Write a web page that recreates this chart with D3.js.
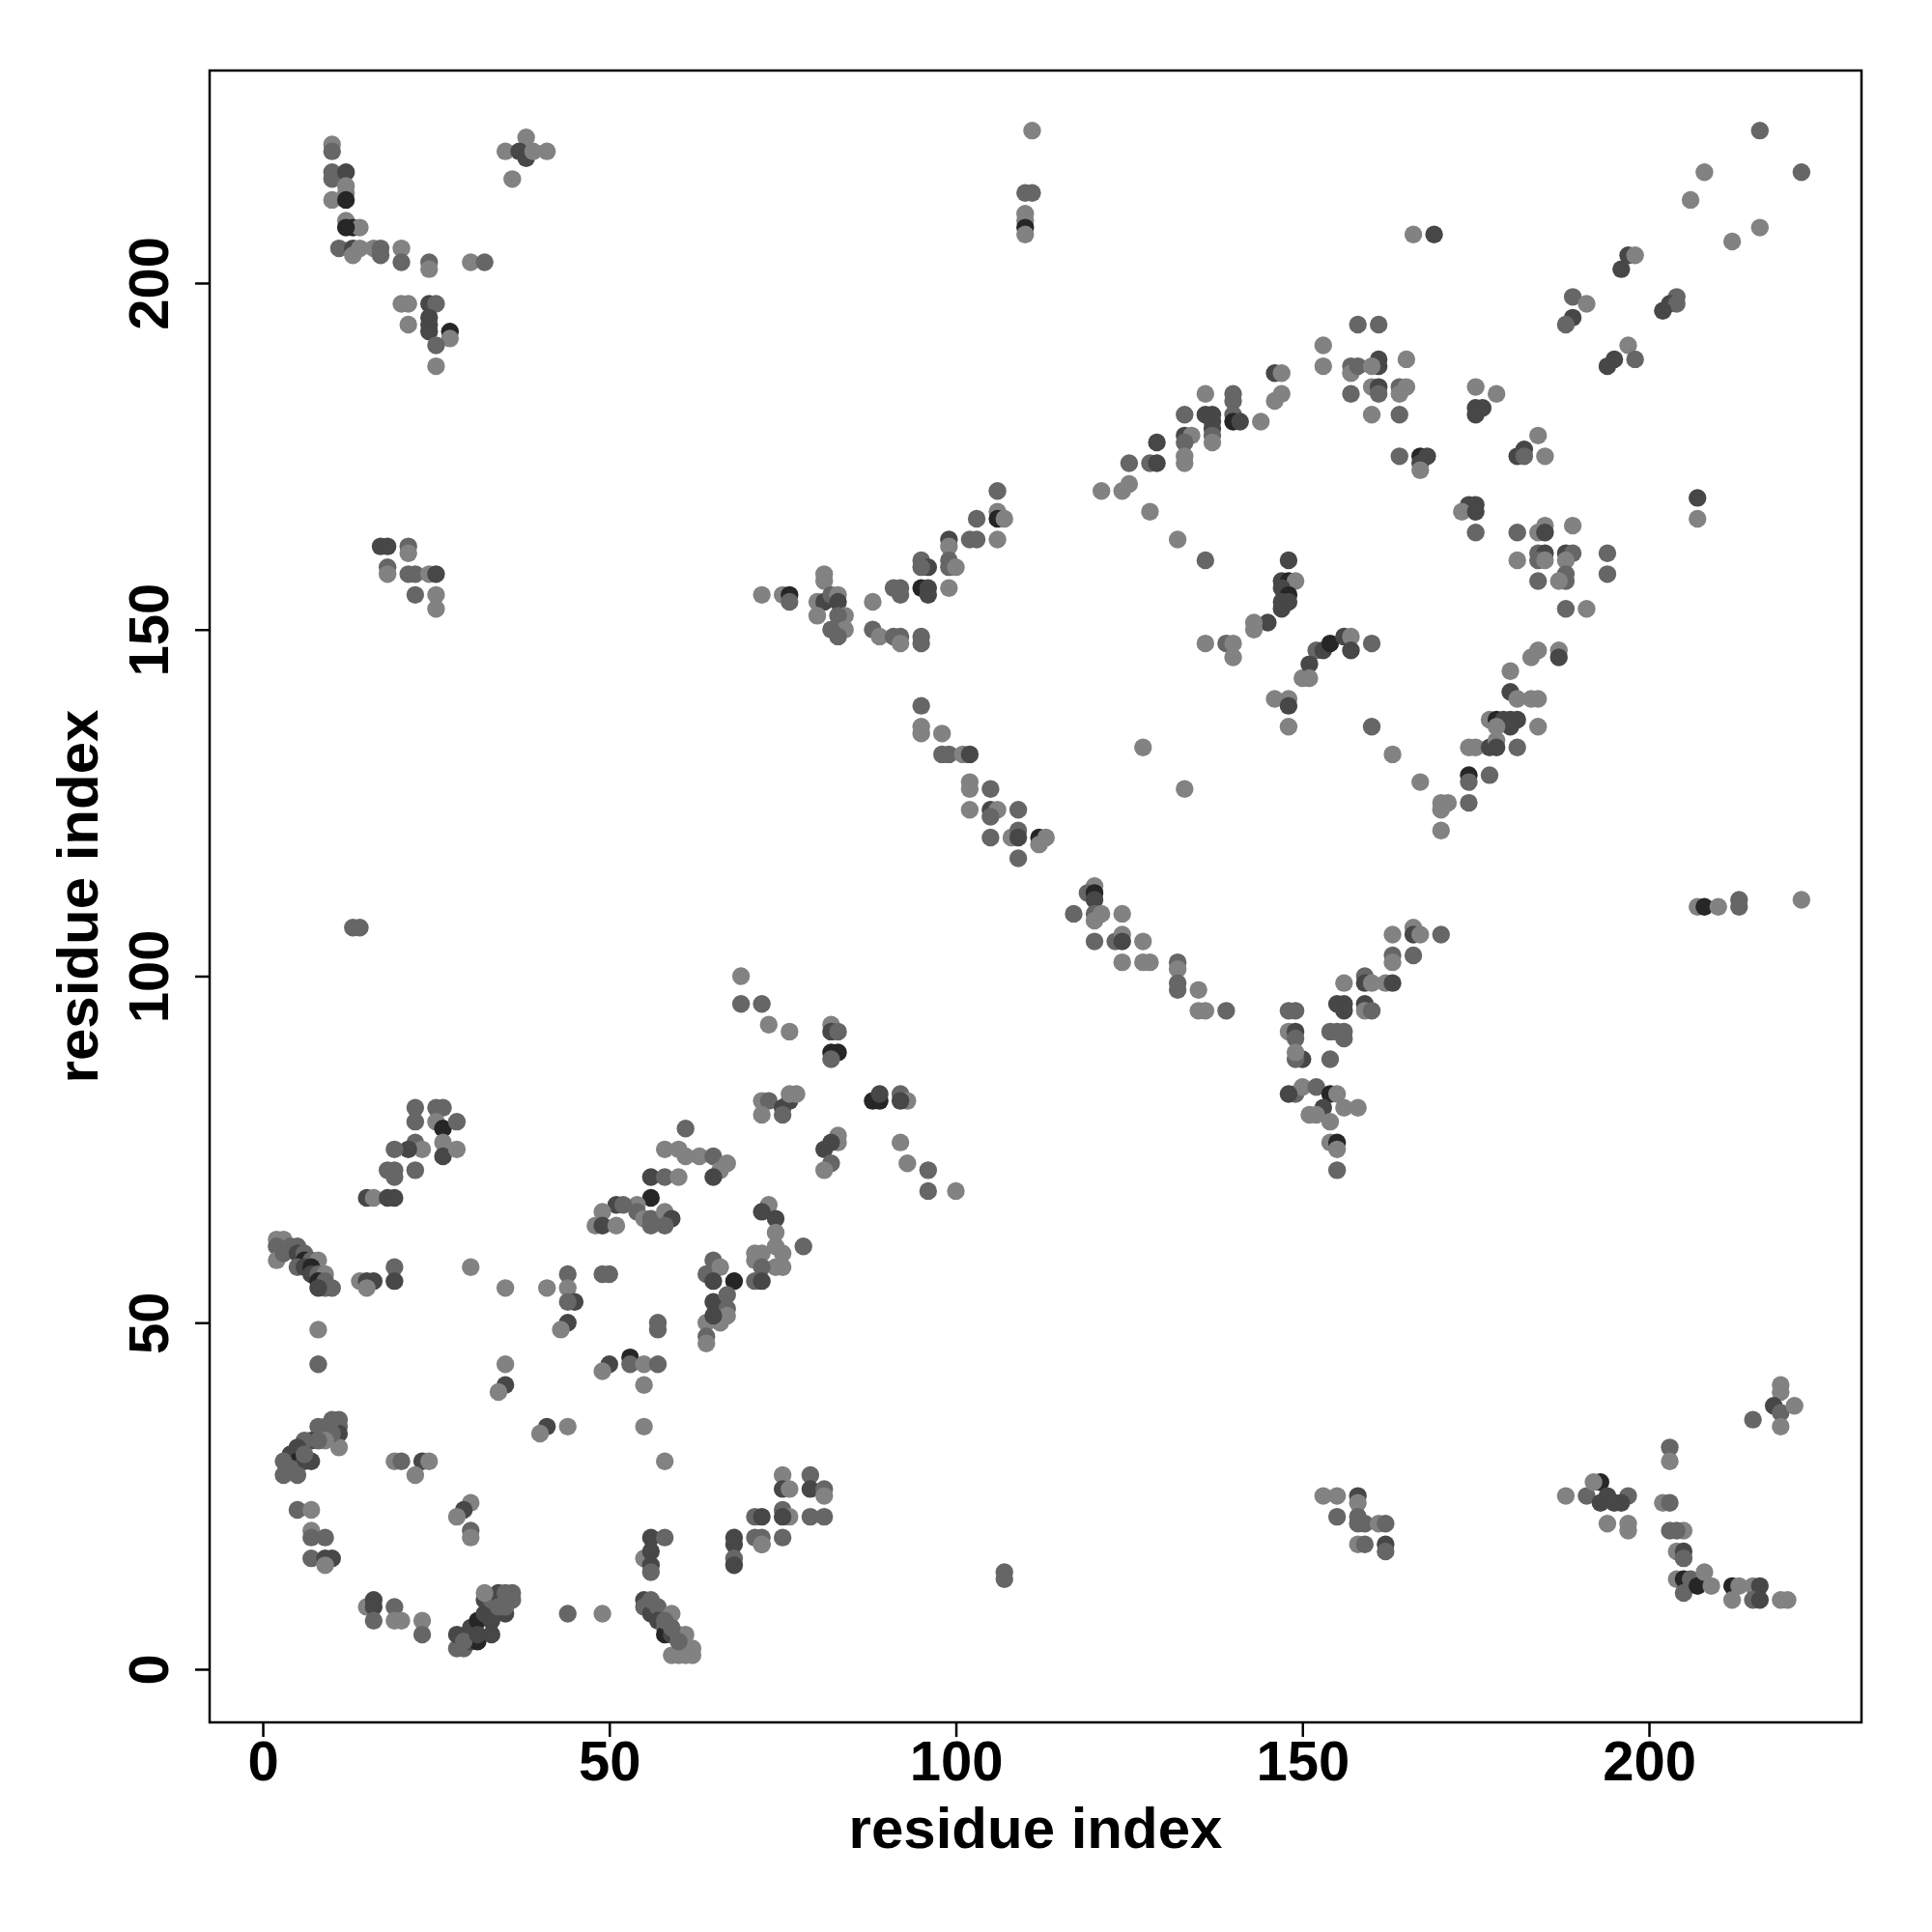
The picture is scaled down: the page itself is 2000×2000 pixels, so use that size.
<!DOCTYPE html>
<html>
<head>
<meta charset="utf-8">
<script src="https://cdn.jsdelivr.net/npm/d3@7"></script>
<style>
  html, body { margin: 0; padding: 0; background: #ffffff; }
  svg { display: block; }
  .tick text { font-family: "Liberation Sans", Arial, sans-serif; font-weight: bold; }
</style>
</head>
<body>
<svg id="chart" width="2000" height="2000"></svg>
<script>
// contacts: [residue i, residue j, shade level 1 (light) .. 4 (very dark)]
const contactsTopLeft = [
  [10,220,1],[10,219,2],[10,216,2],[10,215,2],[12,216,3],[12,214,1],[10,212,1],[12,213,1],[12,212,4],
  [12,209,1],[13,208,4],[14,208,1],[12,208,4],[11,205,2],[13,205,3],[13,204,1],[14,205,1],[16,205,1],[17,205,2],[17,204,2],
  [20,205,1],[20,203,2],[24,203,2],[24,202,1],[30,203,1],[32,203,2],
  [20,197,1],[21,197,1],[21,194,1],
  [24,197,3],[25,197,2],[24,195,3],[24,194,3],[24,193,3],[27,193,4],[27,192,1],[25,191,2],[25,188,1],
  [38,221,1],[35,219,1],[37,219,3],[38,218,3],[41,219,1],[39,219,1],[36,215,1],
  [17,162,3],[18,162,3],[21,162,2],[21,161,1],[18,159,2],[18,158,1],[21,158,2],[22,158,2],[24,158,1],[25,158,3],
  [22,155,2],[25,155,1],[25,153,1]
];
const contactsTopMiddle = [
  [111,222,1],[110,213,2],[111,213,2],[110,210,1],[110,209,1],[110,208,4],[110,207,1],
  [146,187,3],[147,187,1],[147,184,1],[146,183,1],[136,184,1],[140,184,2],[140,183,2],[133,181,2],
  [136,181,3],[137,181,3],[137,180,3],[137,179,3],[137,178,2],[137,177,1],
  [140,181,2],[140,180,4],[141,180,3],[144,180,1],
  [133,178,3],[134,178,1],[133,177,2],[133,175,1],[133,174,1],[129,177,3],[125,174,2],[128,174,2],[129,174,3]
];
const contactsTopRight = [
  [216,222,2],[208,216,1],[222,216,2],[206,212,1],[216,208,1],[212,206,1],[166,207,1],[169,207,3],
  [197,204,3],[198,204,1],[196,202,3],
  [189,198,2],[191,197,1],[189,195,3],[188,194,2],
  [204,198,2],[203,197,3],[204,197,2],[202,196,3],
  [197,191,1],[195,189,3],[194,188,3],[198,189,2],
  [153,191,1],[153,188,1],[158,194,2],[161,194,2],
  [157,188,2],[157,187,1],[158,188,2],[161,189,3],[161,188,3],[160,188,1],[165,189,1],
  [160,185,1],[161,185,3],[161,184,2],[157,184,2],[164,185,2],[165,185,1],[164,184,1],
  [160,181,1],[164,181,2],
  [175,185,1],[178,184,1],[175,182,3],[176,182,3],[175,181,3],
  [164,175,2],[167,175,4],[168,175,3],[167,174,3],[167,173,1],
  [184,178,1],[182,176,3],[181,175,3],[182,175,2],[185,175,1]
];
const contactsCentre = [
  [106,170,2],[121,170,1],[124,170,1],[125,171,1],[128,167,1],
  [103,166,2],[106,167,1],[106,166,4],[107,166,1],
  [99,163,3],[99,162,1],[102,163,2],[103,163,2],[106,163,1],[132,163,1],
  [95,160,2],[96,159,3],[95,159,2],[99,160,2],[99,159,2],[100,159,1],[136,160,2],
  [95,156,4],[96,156,3],[96,155,3],[92,156,2],[92,155,2],[91,156,2],[99,156,1],
  [72,155,1],[75,155,1],[76,155,4],[76,154,2],
  [81,158,1],[81,157,1],[80,154,1],[81,154,3],[82,155,2],[83,155,1],[83,154,3],[84,152,1],[80,152,1],[83,152,2],[84,150,1],[83,149,2],[82,150,2],
  [88,154,1],
  [88,150,2],[89,149,1],[91,149,2],[92,149,2],[92,148,1],[95,149,2],[95,148,2],
  [148,160,3],[147,157,3],[148,157,4],[149,157,1],[147,156,3],[148,155,4],[147,154,3],[148,154,3],[147,153,3],
  [145,151,3],[143,151,1],[143,150,1],
  [136,148,1],[139,148,2],[140,148,1],[140,146,1],
  [150,143,1],
  [146,140,1],[148,140,1],[148,139,3],[148,136,1],
  [127,133,1],[133,127,1],
  [95,139,2],[95,136,1],[95,135,1],[98,135,1],
  [98,132,2],[99,132,2],[101,132,1],[102,132,3],
  [102,128,1],[102,127,1],[105,127,2],
  [102,124,1],[105,124,3],[106,124,1],[105,123,2],[109,124,2],
  [105,120,2],[108,120,1],[109,121,2],[109,120,3],[112,120,4],[113,120,1],[112,119,1],
  [109,117,2],
  [120,113,1],[119,112,2],[120,112,4]
];
const contactsRightMiddle = [
  [207,169,3],[207,166,1],
  [174,168,3],[175,168,3],[173,167,1],[175,167,3],[175,164,2],
  [181,164,2],[184,164,1],[185,165,1],[185,164,3],[189,165,1],
  [181,160,1],[184,161,2],[185,161,3],[184,160,2],[185,160,1],[188,161,3],[189,161,2],[188,160,1],[188,158,2],[188,157,2],[187,157,1],[184,157,2],[194,161,2],[194,158,2],
  [188,153,2],[191,153,1],
  [152,147,2],[153,147,3],[154,148,4],[156,149,3],[157,149,1],[157,147,3],[160,148,2],[151,145,3],[151,143,1],
  [160,136,2],[163,132,1],[167,128,1],
  [170,125,1],[171,125,1],[170,124,1],[174,125,2],[170,121,1],
  [174,129,4],[174,128,2],[177,129,2],
  [174,133,1],[175,133,1],[177,133,3],[178,134,1],[178,133,3],[181,133,2],
  [177,137,1],[178,137,4],[179,137,3],[180,137,3],[181,137,3],[180,136,3],[178,136,1],[184,136,1],
  [180,141,3],[181,140,1],[183,140,1],[184,140,1],
  [180,144,1],
  [183,146,1],[184,147,1],[187,147,1],[187,146,3]
];
const contactsLeftMiddle = [
  [13,107,2],[14,107,2],[69,100,1],[69,96,2],[72,96,2],
  [22,81,2],[25,81,2],[26,81,2],[22,79,2],[25,79,1],[26,78,4],[28,79,2],
  [22,76,2],[23,75,1],[21,75,3],[19,75,2],[26,76,1],[26,74,3],[28,75,1],
  [18,72,2],[19,72,2],[19,71,2],[22,72,2],
  [15,68,3],[16,68,1],[18,68,3],[19,68,3],
  [2,62,1],[3,62,1],[2,61,2],[4,61,2],[2,59,1],[3,60,2],[5,61,2],[5,60,3],[6,60,2],[6,59,4],[7,59,2],[8,59,1],
  [5,58,2],[6,58,3],[7,58,4],[7,57,3],[8,57,2],[9,57,1],[8,56,4],[9,56,2],[9,55,2],[10,55,2],[8,55,3],
  [14,56,1],[15,56,3],[16,56,3],[15,55,1],[19,58,2],[19,56,3],
  [30,58,1],[35,55,1],[41,55,1],[44,57,2],[44,55,1],[45,53,3],[44,53,2],[49,57,2],[50,57,2],
  [61,78,2],
  [58,75,1],[60,75,1],[61,74,1],[63,74,1],[65,74,2],[67,73,1],[66,72,1],[65,71,3],
  [56,71,3],[58,71,2],[60,71,1],
  [56,68,4],[54,67,1],[51,67,3],[52,67,2],[49,66,1],[48,64,1],[49,64,3],[51,64,1],[54,66,2],[55,65,1],[56,65,2],[58,66,1],[59,65,3],[58,64,2],[56,64,2],
  [65,59,2],[64,57,2],[66,58,1],[68,56,4],[65,56,3],[65,53,3],[67,54,2],[71,56,2],[71,59,1],[71,60,1],[67,52,2]
];
const contactsMiddle = [
  [120,111,3],[117,109,2],[120,109,2],[121,109,1],[120,108,1],[124,109,1],
  [120,105,2],[123,105,2],[124,106,1],[124,105,3],[127,105,1],
  [124,102,1],[127,102,1],[128,102,1],
  [132,102,2],[132,101,1],[132,99,2],[132,98,2],[135,98,1],
  [135,95,1],[136,95,1],[139,95,2],
  [148,95,2],[149,95,2],[148,92,1],[149,92,3],[149,91,2],[150,88,3],[149,88,2],[149,89,1],
  [149,83,2],[150,84,1],[148,83,3],[151,80,1],
  [73,93,1],[76,92,1],
  [82,93,1],[82,92,3],[83,92,2],[82,89,4],[83,89,4],[82,88,2],
  [72,82,1],[73,82,2],[75,81,3],[76,82,3],[76,83,1],[77,83,1],[72,80,1],[75,80,2],
  [88,82,4],[89,82,4],[89,83,3],[92,83,2],[93,82,1],[92,82,3],
  [83,77,1],[83,76,1],[82,76,3],[81,75,3],[82,73,2],[81,72,1],
  [92,76,1],[93,73,1],[96,72,2],[96,69,2],[100,69,1],
  [73,67,1],[72,66,3],[74,65,3],[74,63,1],[74,61,1],[75,60,1],[74,58,1],[75,58,1],[72,60,1],[72,58,2],[72,56,3],[78,61,2]
];
const contactsRightLower = [
  [207,110,1],[208,110,4],[210,110,1],[213,111,2],[213,110,2],[222,111,1],
  [163,106,1],[166,107,1],[166,106,3],[167,106,1],[170,106,2],
  [163,103,2],[163,102,1],[166,103,2],
  [156,99,1],[159,100,2],[159,99,3],[160,99,1],[162,99,1],[163,99,3],
  [155,96,3],[156,96,3],[156,95,3],[159,96,3],[159,95,1],[160,95,2],
  [154,92,2],[155,92,2],[156,92,2],[156,91,2],
  [154,88,2],
  [152,84,2],[154,83,4],[155,83,1],[153,81,3],[156,81,1],[158,81,1],[152,80,1],[154,79,1],
  [154,76,1],[155,76,4],[155,75,1],[155,72,2]
];
const contactsBottomLeft = [
  [8,49,1],[8,44,2],[35,44,1],[35,41,3],[34,40,1],[44,50,3],[43,49,1],[57,50,2],[57,49,2],
  [64,50,1],[64,48,2],[64,47,1],[66,50,1],[67,51,1],[65,51,3],
  [50,44,3],[49,43,1],[53,45,4],[53,44,2],[55,44,1],[57,44,2],[55,41,1],
  [41,35,3],[40,34,1],[44,35,1],[55,35,1],[58,30,1],
  [11,36,2],[11,35,2],[11,34,3],[11,32,1],[9,35,2],[8,35,2],[7,33,3],[6,33,2],[5,32,3],[4,31,3],[5,30,4],[6,30,3],[7,30,3],
  [3,30,2],[4,29,2],[5,28,2],[3,28,2],[10,36,2],[10,34,2],[9,33,1],[8,33,2],[6,31,2],
  [19,30,1],[20,30,2],[23,30,3],[24,30,1],[22,28,1],
  [5,23,2],[7,23,1],[7,20,1],[7,19,2],[9,19,2],
  [7,16,2],[9,16,3],[10,16,3],[9,15,1],
  [30,24,1],[29,23,3],[28,22,1],[30,20,2],[30,19,1],
  [56,19,3],[58,19,2],[55,16,1],[56,17,3],[56,15,3],[56,14,2],
  [68,19,3],[68,18,3],[68,16,2],[68,15,3],[71,22,2],[71,19,2],[72,18,2],
  [15,9,1],[16,10,3],[16,9,3],[16,7,2],[19,9,2],[19,7,1],[20,7,1],[23,7,1],[23,5,2],
  [28,3,2],[29,3,2],[30,4,3],[31,4,4],[28,5,3],[30,6,3],[31,7,4],[32,8,3],[32,10,3],[33,10,2],[34,11,3],[35,11,2],
  [36,11,2],[36,10,2],[35,8,3],[33,7,3],[33,5,3],[32,11,1],[35,9,2],[29,4,2],[31,5,3],[34,9,2],
  [44,8,2],[49,8,1],
  [55,10,3],[55,9,2],[56,8,3],[57,9,2],[57,7,3],[58,6,2],[58,5,4],[59,8,1],[59,5,3],[60,5,1],[61,5,1],
  [61,3,1],[62,3,1],[62,2,1],[59,2,1],[60,2,1],[61,2,1],[60,4,2],[59,6,2],[58,7,2],[56,10,2]
];
const contactsBottomMiddle = [
  [75,28,1],[79,28,2],[75,26,3],[76,26,1],[79,26,3],[81,26,2],[81,25,1],[75,23,2],[76,22,1],[75,22,3],
  [79,22,2],[81,22,2],[72,22,3],[72,19,2],[72,18,1],[75,19,2],
  [107,14,2],[107,13,2]
];
const contactsBottomRight = [
  [219,41,1],[219,40,1],[218,38,3],[219,37,2],[221,38,1],[215,36,2],[219,35,1],
  [203,32,2],[203,30,1],[202,24,1],[203,24,2],[203,20,2],[205,20,1],[204,20,2],
  [204,17,1],[205,17,3],[205,16,2],[204,13,1],[205,13,4],[205,11,2],[206,13,2],[207,12,4],[208,14,1],[209,12,1],
  [212,12,4],[213,12,1],[212,10,1],[215,12,1],[216,12,3],[215,10,2],[216,10,3],[219,10,1],[220,10,1],
  [188,25,1],[191,25,2],[193,27,4],[192,27,1],[194,25,3],[193,24,3],[197,25,2],[196,24,3],[195,24,3],[194,21,1],[197,21,1],[197,20,1],
  [153,25,1],[155,25,1],[158,25,3],[158,24,1],[155,22,2],[158,22,2],[158,21,2],[159,21,2],[161,21,1],[162,21,2],
  [158,18,1],[159,18,2],[162,18,3],[162,17,2]
];
const tickValues = [0, 50, 100, 150, 200];
const axisTitleX = "residue index";
const axisTitleY = "residue index";
const shadeColours = ["#828282", "#666666", "#474747", "#262626"];

const contacts = [].concat(
  contactsTopLeft, contactsTopMiddle, contactsTopRight, contactsCentre,
  contactsRightMiddle, contactsLeftMiddle, contactsMiddle, contactsRightLower,
  contactsBottomLeft, contactsBottomMiddle, contactsBottomRight
);

const svg = d3.select("#chart");
svg.append("rect").attr("width", 2000).attr("height", 2000).attr("fill", "#ffffff");

const plot = { left: 217, right: 1927, top: 73, bottom: 1783 };
const domain = [-7.67, 230.66];
const x = d3.scaleLinear().domain(domain).range([plot.left, plot.right]);
const y = d3.scaleLinear().domain(domain).range([plot.bottom, plot.top]);
const colour = d3.scaleOrdinal().domain([1, 2, 3, 4]).range(shadeColours);

// points
svg.append("g")
  .selectAll("circle")
  .data(contacts)
  .join("circle")
  .attr("cx", d => x(d[0]))
  .attr("cy", d => y(d[1]))
  .attr("r", 9.2)
  .attr("fill", d => colour(d[2]));

// frame
svg.append("rect")
  .attr("x", plot.left).attr("y", plot.top)
  .attr("width", plot.right - plot.left).attr("height", plot.bottom - plot.top)
  .attr("fill", "none").attr("stroke", "#000").attr("stroke-width", 2.5);

const tickFont = 58;
// x axis
const gx = svg.append("g")
  .attr("transform", `translate(0,${plot.bottom})`)
  .call(d3.axisBottom(x).tickValues(tickValues).tickSize(15).tickPadding(4).tickFormat(d3.format("d")));
gx.select(".domain").remove();
gx.selectAll(".tick line").attr("stroke", "#000").attr("stroke-width", 2.5);
gx.selectAll(".tick text").attr("fill", "#000").style("font-size", tickFont + "px");

// y axis
const gy = svg.append("g")
  .attr("transform", `translate(${plot.left},0)`)
  .call(d3.axisLeft(y).tickValues(tickValues).tickSize(15).tickFormat(d3.format("d")));
gy.select(".domain").remove();
gy.selectAll(".tick line").attr("stroke", "#000").attr("stroke-width", 2.5);
gy.selectAll(".tick text")
  .attr("fill", "#000")
  .style("font-size", tickFont + "px")
  .attr("transform", "rotate(-90)")
  .attr("x", 0).attr("y", -43).attr("dy", 0)
  .style("text-anchor", "middle");

// axis titles
svg.append("text")
  .attr("x", (plot.left + plot.right) / 2).attr("y", 1913)
  .attr("text-anchor", "middle")
  .style("font-family", "'Liberation Sans', Arial, sans-serif")
  .style("font-weight", "bold").style("font-size", "60px")
  .text(axisTitleX);

svg.append("text")
  .attr("transform", `translate(101,${(plot.top + plot.bottom) / 2}) rotate(-90)`)
  .attr("text-anchor", "middle")
  .style("font-family", "'Liberation Sans', Arial, sans-serif")
  .style("font-weight", "bold").style("font-size", "60px")
  .text(axisTitleY);
</script>
</body>
</html>
